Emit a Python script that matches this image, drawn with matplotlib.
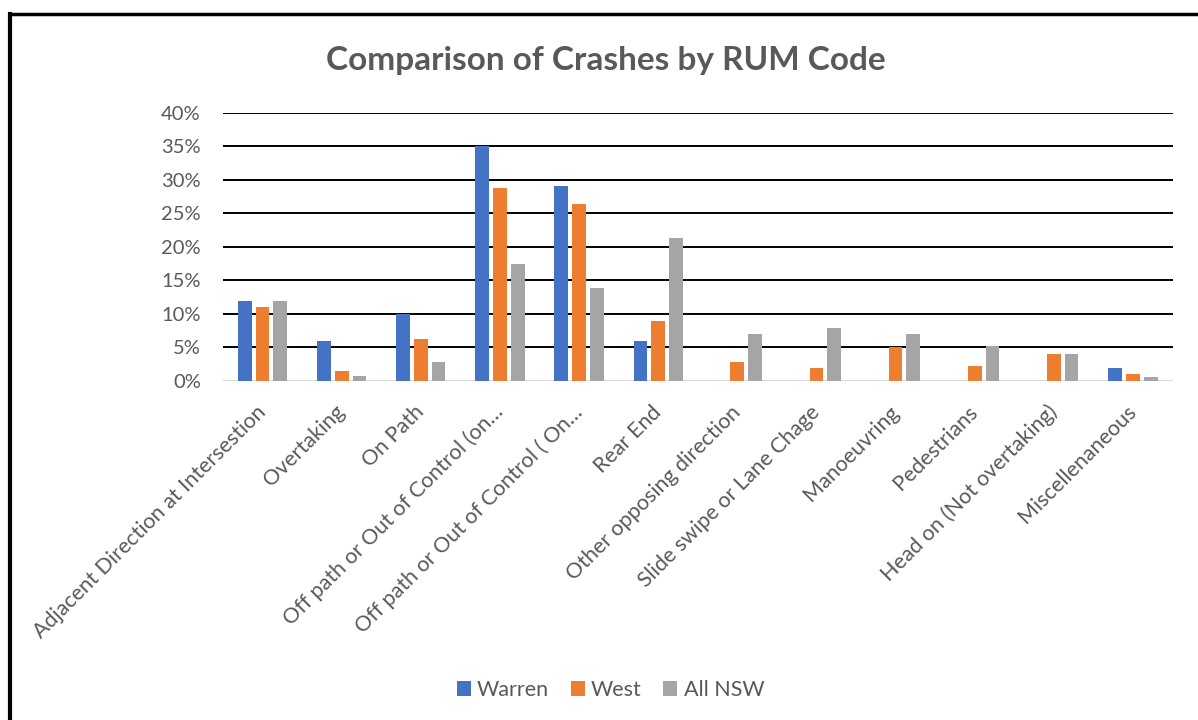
import matplotlib.pyplot as plt
import matplotlib.transforms as mtransforms
from matplotlib.lines import Line2D
from matplotlib.patches import Patch
from matplotlib.ticker import PercentFormatter
import numpy as np

plt.rcParams['font.family'] = ['Lato', 'DejaVu Sans']

# RUM code categories (long labels truncated as in the source chart)
categories = [
    "Adjacent Direction at Intersestion",
    "Overtaking",
    "On Path",
    "Off path or Out of Control (on\u2026",
    "Off path or Out of Control ( On\u2026",
    "Rear End",
    "Other opposing direction",
    "Slide swipe or Lane Chage",
    "Manoeuvring",
    "Pedestrians",
    "Head on (Not overtaking)",
    "Miscellenaneous",
]

# share of crashes (fraction)
warren = [0.12, 0.06, 0.10, 0.35, 0.29, 0.06, 0.0, 0.0, 0.0, 0.0, 0.0, 0.02]
west = [0.11, 0.015, 0.062, 0.288, 0.264, 0.09, 0.028, 0.019, 0.05, 0.023, 0.04, 0.01]
all_nsw = [0.12, 0.0075, 0.028, 0.175, 0.138, 0.213, 0.07, 0.079, 0.07, 0.052, 0.04, 0.006]

series_names = ["Warren", "West", "All NSW"]
colors = ["#4472C4", "#ED7D31", "#A5A5A5"]
text_grey = "#595959"

W, H = 1198, 720
fig = plt.figure(figsize=(W / 100, H / 100), dpi=100)
ax = fig.add_axes([223 / W, 1 - 381 / H, (1172.5 - 223) / W, (381 - 112.7) / H])

x = np.arange(len(categories))
step = 0.224
width = 0.173
for i, (vals, c) in enumerate(zip([warren, west, all_nsw], colors)):
    ax.bar(x + (i - 1) * step, vals, width=width, color=c, zorder=3)

ax.set_xlim(-0.5, len(categories) - 0.5)
ax.set_ylim(0, 0.40)
ax.set_yticks(np.arange(0, 0.401, 0.05))
ax.yaxis.set_major_formatter(PercentFormatter(1.0, decimals=0))

# gridlines: black, except the light baseline
for v in np.arange(0.05, 0.401, 0.05):
    ax.axhline(v, color="black", lw=1.4, zorder=1)
ax.axhline(0, color="#D9D9D9", lw=1.5, zorder=2)

for s in ax.spines.values():
    s.set_visible(False)
ax.tick_params(axis="both", length=0, colors=text_grey)
ax.tick_params(axis="y", pad=16, labelsize=14.5)

ax.set_xticks(x)
ax.set_xticklabels(categories, rotation=45, ha="right", va="center",
                   rotation_mode="anchor", fontsize=15.5, color=text_grey)
offset = mtransforms.ScaledTranslation(0 / 100, -23 / 100, fig.dpi_scale_trans)
for lbl in ax.get_xticklabels():
    lbl.set_transform(lbl.get_transform() + offset)

fig.text(606 / W, 1 - 70 / H, "Comparison of Crashes by RUM Code",
         ha="center", va="baseline", fontsize=24, fontweight="bold", color=text_grey)

handles = [Patch(facecolor=c, edgecolor="none") for c in colors]
leg = fig.legend(handles, series_names, loc="center", bbox_to_anchor=(610.5 / W, 1 - 690 / H),
                 ncol=3, frameon=False, fontsize=15.5, handlelength=0.65, handleheight=0.65,
                 handletextpad=0.3, columnspacing=1.0)
for t in leg.get_texts():
    t.set_color(text_grey)

# outer frame (left and top edges only)
fig.add_artist(Line2D([10 / W, 10 / W], [0, 1 - 13.5 / H], color="black", lw=3,
                      transform=fig.transFigure, solid_capstyle="projecting"))
fig.add_artist(Line2D([10 / W, 1], [1 - 13.5 / H, 1 - 13.5 / H], color="black", lw=2.5,
                      transform=fig.transFigure, solid_capstyle="projecting"))

fig.savefig("out.png", dpi=100)
